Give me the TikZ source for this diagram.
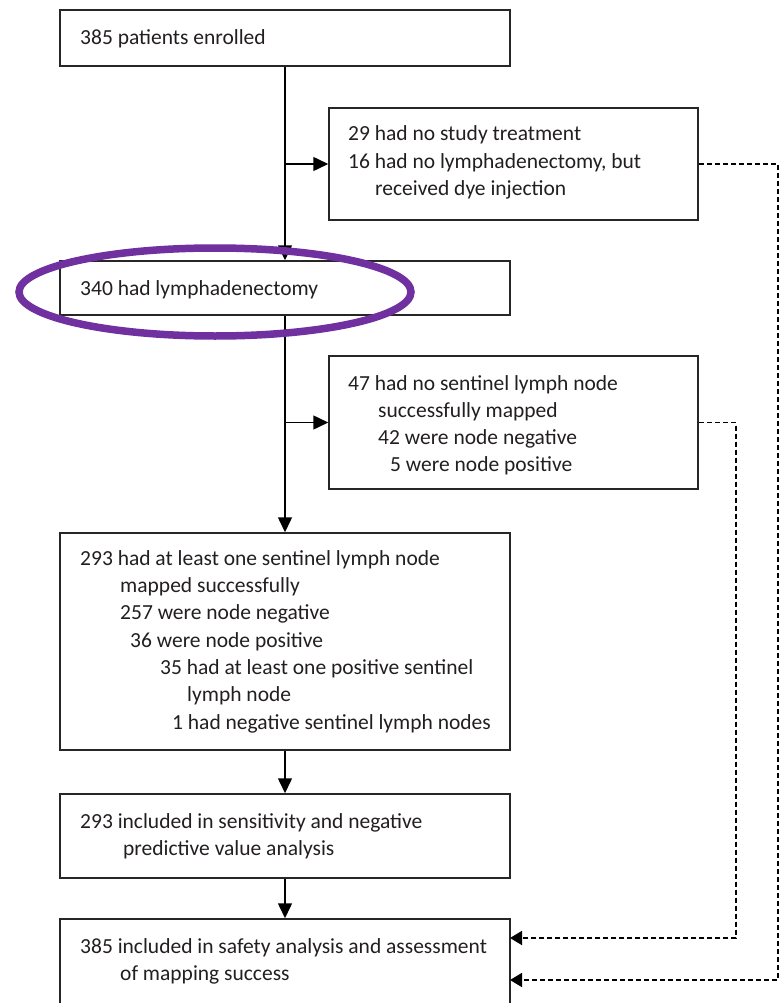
\documentclass[tikz,border=0pt]{standalone}
\usepackage{fontspec}
\setmainfont{Carlito}
\usetikzlibrary{arrows.meta}
\definecolor{txt}{HTML}{231F20}
\definecolor{ring}{HTML}{7030A0}
\begin{document}
\begin{tikzpicture}[x=1pt,y=-1pt,
  box/.style={draw=black!85, line width=1.5pt, inner sep=0pt, fill=white},
  lbl/.style={anchor=base west, inner sep=0pt, text=txt, font=\fontsize{21.5}{26}\selectfont},
  arr/.style={line width=1.5pt, -{Triangle[width=14pt,length=15pt]}},
  dsh/.style={line width=1.8pt, dash pattern=on 5pt off 3pt, -{Triangle[width=14pt,length=12pt]}}]
\useasboundingbox (0,0) rectangle (780,1003);
\clip (0,0) rectangle (780,1003);
% boxes
\node[box, minimum width=450pt, minimum height=56pt] (A) at (285,38) {};
\node[box, minimum width=369pt, minimum height=112pt] (B) at (513.5,164) {};
\node[box, minimum width=450pt, minimum height=54pt] (C) at (285,288) {};
\node[box, minimum width=369pt, minimum height=133pt] (D) at (513.5,422.5) {};
\node[box, minimum width=450pt, minimum height=217pt] (E) at (285,641.5) {};
\node[box, minimum width=450pt, minimum height=84pt] (F) at (285,836) {};
\node[box, minimum width=450pt, minimum height=100pt] (G) at (285,969) {};
% texts
\node[lbl] (tA) at (80,45) {385 patients enrolled};
\node[lbl] (tB1) at (348,141) {29 had no study treatment};
\node[lbl] (tB2) at (348,168) {16 had no lymphadenectomy, but};
\node[lbl] (tB3) at (375,196) {received dye injection};
\node[lbl] (tC) at (80,295) {340 had lymphadenectomy};
\node[lbl] (tD1) at (348,390) {47 had no sentinel lymph node};
\node[lbl] (tD2) at (378,417) {successfully mapped};
\node[lbl] (tD3) at (378,444) {42 were node negative};
\node[lbl] (tD4) at (390,471) {5 were node positive};
\node[lbl] (tE1) at (80,565) {293 had at least one sentinel lymph node};
\node[lbl] (tE2) at (120,592) {mapped successfully};
\node[lbl] (tE3) at (120,619) {257 were node negative};
\node[lbl] (tE4) at (130,647) {36 were node positive};
\node[lbl] (tE5) at (160,674) {35 had at least one positive sentinel};
\node[lbl] (tE6) at (187,701) {lymph node};
\node[lbl] (tE7) at (172,729) {1 had negative sentinel lymph nodes};
\node[lbl] (tF1) at (80,828) {293 included in sensitivity and negative};
\node[lbl] (tF2) at (123,855) {predictive value analysis};
\node[lbl] (tG1) at (80,953) {385 included in safety analysis and assessment};
\node[lbl] (tG2) at (120,980) {of mapping success};
% junctions
\coordinate (j1) at (A.south |- B.west);
\coordinate (j2) at (C.south |- D.west);
\coordinate (g1) at (510,938);
\coordinate (g2) at (510,980);
% solid connectors
\draw[arr] (A.south) -- (C.north);
\draw[arr] (j1) -- (B.west);
\draw[arr] (C.south) -- (E.north);
\draw[arr] (j2) -- (D.west);
\draw[arr] (E.south) -- (F.north);
\draw[arr] (F.south) -- (G.north);
% dashed connectors
\draw[dsh] (B.east) -- ++(79,0) |- (g2);
\draw[dsh] (D.east) -- ++(37,0) |- (g1);
% highlight ring
\draw[ring, line width=7.5pt] (215,292) ellipse [x radius=196pt, y radius=44pt];
\end{tikzpicture}
\end{document}
